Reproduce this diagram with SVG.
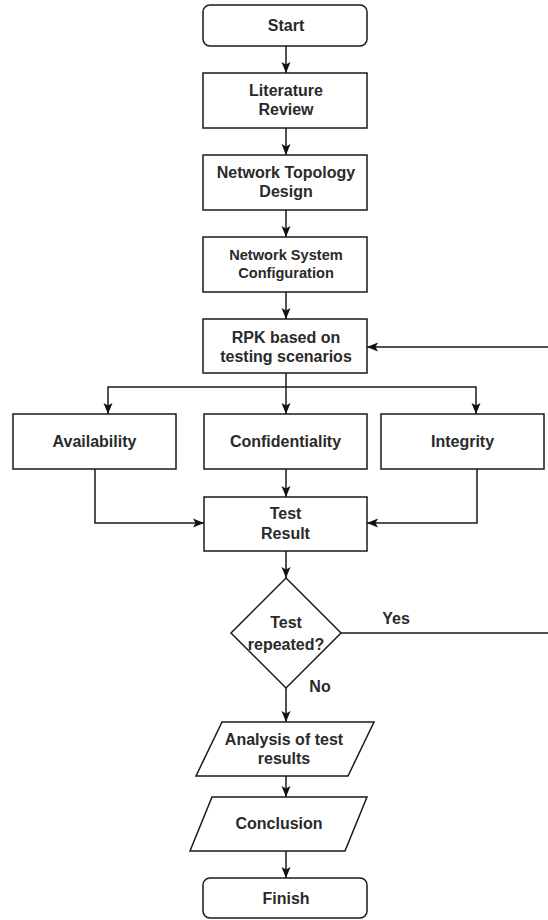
<svg xmlns="http://www.w3.org/2000/svg" width="548" height="920" viewBox="0 0 548 920">
<style>
.box{fill:#fff;stroke:#1a1a1a;stroke-width:1.5}
.t{font-family:"Liberation Sans",Arial,sans-serif;font-size:16px;font-weight:bold;fill:#2a2a2a;text-anchor:middle}
.s{font-size:14.6px}
.c{fill:none;stroke:#1a1a1a;stroke-width:1.5}
</style>
<defs>
<marker id="ah" markerUnits="userSpaceOnUse" markerWidth="12" markerHeight="12" viewBox="0 0 12 10" refX="11" refY="5" orient="auto">
<path d="M0,0.5 L11,5 L0,9.5 L2.5,5 z" fill="#111"/>
</marker>
</defs>
<rect width="548" height="920" fill="#fff"/>
<g id="connectors">
<path class="c" d="M286,46 V73" marker-end="url(#ah)"/>
<path class="c" d="M286,128 V155" marker-end="url(#ah)"/>
<path class="c" d="M286,210 V237" marker-end="url(#ah)"/>
<path class="c" d="M286,292 V319" marker-end="url(#ah)"/>
<path class="c" d="M548,347 H367" marker-end="url(#ah)"/>
<path class="c" d="M286,373 V414" marker-end="url(#ah)"/>
<path class="c" d="M286,387 H108 V414" marker-end="url(#ah)"/>
<path class="c" d="M286,387 H476 V414" marker-end="url(#ah)"/>
<path class="c" d="M95,469 V523 H204" marker-end="url(#ah)"/>
<path class="c" d="M286,469 V497" marker-end="url(#ah)"/>
<path class="c" d="M477,469 V523 H367" marker-end="url(#ah)"/>
<path class="c" d="M286,551 V578" marker-end="url(#ah)"/>
<path class="c" d="M341,633 H548"/>
<path class="c" d="M286,688 V722" marker-end="url(#ah)"/>
<path class="c" d="M286,776 V797" marker-end="url(#ah)"/>
<path class="c" d="M286,851 V878" marker-end="url(#ah)"/>
<text class="t" x="396" y="624">Yes</text>
<text class="t" x="320" y="692">No</text>
</g>
<g id="start">
<rect class="box" x="203" y="5" width="164" height="41" rx="7"/>
<text class="t" x="286" y="31">Start</text>
</g>
<g id="literature">
<rect class="box" x="203" y="73" width="164" height="55"/>
<text class="t" x="286" y="96">Literature</text>
<text class="t" x="286" y="115">Review</text>
</g>
<g id="topology">
<rect class="box" x="203" y="155" width="164" height="55"/>
<text class="t" x="286" y="178">Network Topology</text>
<text class="t" x="286" y="197">Design</text>
</g>
<g id="configuration">
<rect class="box" x="203" y="237" width="164" height="55"/>
<text class="t s" x="286" y="260">Network System</text>
<text class="t s" x="286" y="278">Configuration</text>
</g>
<g id="rpk">
<rect class="box" x="203" y="319" width="164" height="54"/>
<text class="t" x="286" y="343">RPK based on</text>
<text class="t" x="286" y="362">testing scenarios</text>
</g>
<g id="availability">
<rect class="box" x="13" y="414" width="163" height="55"/>
<text class="t" x="94.5" y="447">Availability</text>
</g>
<g id="confidentiality">
<rect class="box" x="204" y="414" width="163" height="55"/>
<text class="t" x="285.5" y="447">Confidentiality</text>
</g>
<g id="integrity">
<rect class="box" x="381" y="414" width="163" height="55"/>
<text class="t" x="462.5" y="447">Integrity</text>
</g>
<g id="result">
<rect class="box" x="204" y="497" width="163" height="54"/>
<text class="t" x="285.5" y="519">Test</text>
<text class="t" x="285.5" y="539">Result</text>
</g>
<g id="decision">
<polygon class="box" points="286,578 341,633 286,688 231,633"/>
<text class="t" x="286" y="628">Test</text>
<text class="t" x="286" y="650">repeated?</text>
</g>
<g id="analysis">
<polygon class="box" points="222,722 374,722 348,776 196,776"/>
<text class="t" x="284" y="745">Analysis of test</text>
<text class="t" x="284" y="764">results</text>
</g>
<g id="conclusion">
<polygon class="box" points="212,797 367,797 345,851 190,851"/>
<text class="t" x="279" y="829">Conclusion</text>
</g>
<g id="finish">
<rect class="box" x="203" y="878" width="164" height="40" rx="7"/>
<text class="t" x="286" y="904">Finish</text>
</g>
</svg>
